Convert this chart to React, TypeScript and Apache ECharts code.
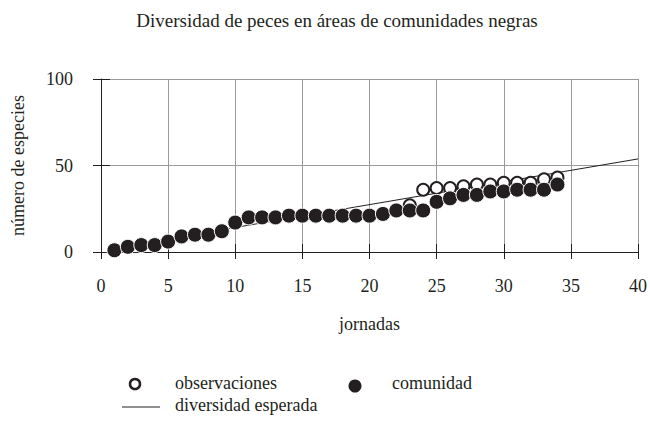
import React, { useEffect, useRef } from "react";
import * as echarts from "echarts";

const titleText = "Diversidad de peces en áreas de comunidades negras";
const jornadas = [1, 2, 3, 4, 5, 6, 7, 8, 9, 10, 11, 12, 13, 14, 15, 16, 17, 18, 19, 20, 21, 22, 23, 24, 25, 26, 27, 28, 29, 30, 31, 32, 33, 34];
const observaciones = [1, 3, 4, 4, 6, 9, 10, 10, 12, 17, 20, 20, 20, 21, 21, 21, 21, 21, 21, 21, 22, 24, 27, 36, 37, 37, 38, 39, 39, 40, 40, 40, 42, 43];
const comunidad = [1, 3, 4, 4, 6, 9, 10, 10, 12, 17, 20, 20, 20, 21, 21, 21, 21, 21, 21, 21, 22, 24, 24, 24, 29, 31, 33, 33, 35, 35, 36, 36, 36, 39];
const esperadaX = [1, 40];
const esperadaY = [2.3, 53.8];
const xTicks = [0, 5, 10, 15, 20, 25, 30, 35, 40];
const yTicks = [0, 50, 100];
const legendNames = ["observaciones", "comunidad", "diversidad esperada"];

const FONT = "Liberation Serif";
const INK = "#231f20";
const GRID = "#9a9a9a";
const FS = 18;

export default function App() {
  const ref = useRef<HTMLDivElement>(null);
  useEffect(() => {
    if (!ref.current) return;
    const chart = echarts.init(ref.current, null, { renderer: "svg" });
    const xMin = xTicks[0];
    const xMax = xTicks[xTicks.length - 1];
    const xInt = xTicks[1] - xTicks[0];
    const yMin = yTicks[0];
    const yMax = yTicks[yTicks.length - 1];
    const yInt = yTicks[1] - yTicks[0];
    const baseX = { type: "value", min: xMin, max: xMax, interval: xInt };
    const baseY = { type: "value", min: yMin, max: yMax, interval: yInt };
    const txt = { fontFamily: FONT, fontSize: FS, fill: INK };
    chart.setOption({
      animation: false,
      backgroundColor: "#ffffff",
      textStyle: { fontFamily: FONT, color: INK },
      title: {
        text: titleText,
        left: 332,
        textAlign: "center",
        top: 6,
        textStyle: { fontFamily: FONT, fontSize: 19, fontWeight: "normal", color: INK },
      },
      grid: { left: 101, right: 7, top: 79, bottom: 178, containLabel: false },
      xAxis: [
        {
          ...baseX,
          name: "jornadas",
          nameLocation: "middle",
          nameGap: 63,
          nameTextStyle: { fontFamily: FONT, fontSize: FS, color: INK },
          axisLine: { show: true, onZero: false, lineStyle: { color: INK, width: 1 } },
          axisTick: { show: true, length: 7, lineStyle: { color: INK, width: 1 } },
          axisLabel: { margin: 25, fontFamily: FONT, fontSize: FS, color: INK, showMaxLabel: true },
          splitLine: { show: true, lineStyle: { color: GRID, width: 1 } },
        },
        {
          ...baseX,
          position: "bottom",
          axisLine: { show: false, onZero: false },
          axisTick: { show: true, inside: true, length: 8, lineStyle: { color: INK, width: 1 } },
          axisLabel: { show: false },
          splitLine: { show: false },
        },
      ],
      yAxis: [
        {
          ...baseY,
          name: "número de especies",
          nameLocation: "middle",
          nameGap: 74,
          nameRotate: 90,
          nameTextStyle: { fontFamily: FONT, fontSize: FS, color: INK, padding: [0, 0, 0, 0] },
          axisLine: { show: true, onZero: false, lineStyle: { color: INK, width: 1 } },
          axisTick: { show: true, length: 8, lineStyle: { color: INK, width: 1 } },
          axisLabel: { margin: 28, fontFamily: FONT, fontSize: FS, color: INK },
          splitLine: { show: true, lineStyle: { color: GRID, width: 1 } },
        },
        {
          ...baseY,
          position: "left",
          axisLine: { show: false, onZero: false },
          axisTick: { show: true, inside: true, length: 9, lineStyle: { color: INK, width: 1 } },
          axisLabel: { show: false },
          splitLine: { show: false },
        },
      ],
      graphic: [
        { type: "circle", shape: { cx: 135, cy: 384, r: 5 }, style: { fill: "#ffffff", stroke: INK, lineWidth: 2.5 } },
        { type: "text", x: 175, y: 383, style: { ...txt, text: legendNames[0], verticalAlign: "middle" } },
        { type: "circle", shape: { cx: 355, cy: 386, r: 6.5 }, style: { fill: INK } },
        { type: "text", x: 392, y: 383, style: { ...txt, text: legendNames[1], verticalAlign: "middle" } },
        { type: "line", shape: { x1: 122, y1: 407, x2: 160, y2: 407 }, style: { stroke: INK, lineWidth: 1 } },
        { type: "text", x: 175, y: 405, style: { ...txt, text: legendNames[2], verticalAlign: "middle" } },
      ],
      series: [
        {
          name: legendNames[2],
          type: "line",
          data: esperadaX.map((x, i) => [x, esperadaY[i]]),
          symbol: "none",
          showSymbol: false,
          lineStyle: { color: INK, width: 1 },
          itemStyle: { color: INK },
          z: 2,
        },
        {
          name: legendNames[0],
          type: "scatter",
          data: jornadas.map((x, i) => [x, observaciones[i]]),
          symbol: "circle",
          symbolSize: 12,
          itemStyle: { color: "#ffffff", borderColor: INK, borderWidth: 2, opacity: 1 },
          z: 3,
        },
        {
          name: legendNames[1],
          type: "scatter",
          data: jornadas.map((x, i) => [x, comunidad[i]]),
          symbol: "circle",
          symbolSize: 15,
          itemStyle: { color: INK, borderColor: "#ffffff", borderWidth: 1, opacity: 1 },
          z: 4,
        },
      ],
    });
    return () => chart.dispose();
  }, []);
  return <div ref={ref} style={{ width: 650, height: 430, position: "fixed", left: 0, top: 0 }} />;
}
